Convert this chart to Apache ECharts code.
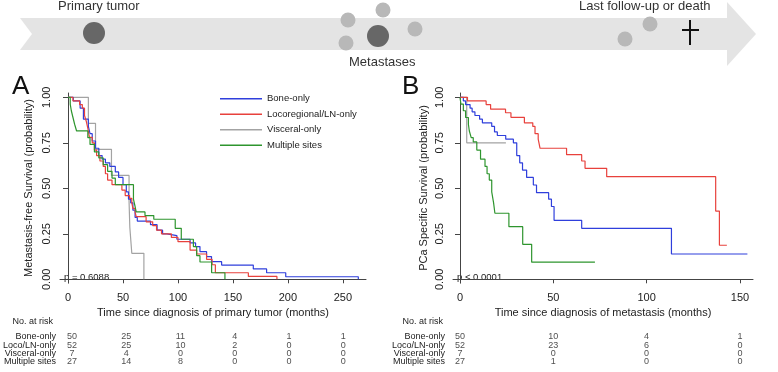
<!DOCTYPE html>
<html>
<head>
<meta charset="utf-8">
<script src="https://cdn.jsdelivr.net/npm/echarts@6/dist/echarts.min.js"></script>
<style>
  html, body { margin: 0; padding: 0; background: #fff; }
  #chart { width: 778px; height: 372px; }
</style>
</head>
<body>
<div id="chart"></div>
<script>
// groups shown in the legend
const groups = ['Bone-only', 'Locoregional/LN-only', 'Visceral-only', 'Multiple sites'];
const riskRows = ['Bone-only', 'Loco/LN-only', 'Visceral-only', 'Multiple sites'];
const colors = ['#2f3fdc', '#e8413c', '#a3a3a3', '#2e952e'];

// panel A: metastasis-free survival, [months, probability]
const boneA = [[0,1],[4.8,0.98],[11,0.94],[14,0.88],[18.5,0.84],[20,0.80],[22,0.76],[25,0.72],[28,0.68],[31,0.66],[34,0.64],[38,0.62],[43,0.59],[46,0.56],[50,0.52],[53,0.48],[55,0.44],[57,0.42],[59,0.38],[61,0.34],[63,0.32],[75,0.30],[81,0.27],[86,0.25],[90,0.24],[99,0.22],[111,0.20],[116,0.18],[120,0.152],[126,0.125],[130.5,0.097],[139.7,0.078],[168.5,0.057],[180.6,0.036],[198,0.014],[264,0]];
const locoA = [[0,1],[4.5,0.98],[10.5,0.96],[13,0.94],[15,0.90],[16.5,0.87],[18,0.83],[19.5,0.78],[22,0.75],[24,0.71],[26,0.68],[29,0.65],[32,0.62],[34,0.58],[36,0.545],[40,0.52],[49,0.49],[52,0.46],[56,0.445],[58,0.42],[59,0.39],[61,0.37],[62,0.344],[71,0.316],[77,0.295],[80.5,0.27],[85,0.25],[94,0.23],[100,0.207],[111,0.16],[117,0.139],[126,0.11],[131,0.08],[134,0.036],[164,0.016],[190,0]];
const viscA = [[0,1],[18.5,0.857],[25,0.714],[39.5,0.571],[55.5,0.429],[56.2,0.286],[58,0.143],[69,0]];
const multiA = [[0,1],[2,0.963],[3,0.926],[4.5,0.889],[6,0.852],[7.8,0.815],[18,0.778],[20,0.741],[24,0.70],[28,0.667],[32,0.63],[36,0.593],[40,0.556],[43,0.52],[59.5,0.44],[61,0.40],[62,0.37],[70,0.35],[78,0.33],[97.5,0.28],[103,0.22],[114,0.18],[117,0.13],[120,0.095],[130.6,0.036],[142.7,0]];

// panel B: PCa specific survival, [months, probability]
const boneB = [[0,1],[1.8,0.98],[3,0.96],[5.4,0.94],[6.5,0.92],[8,0.90],[10.5,0.88],[12,0.86],[17,0.84],[18.5,0.81],[20,0.79],[24.5,0.77],[28.6,0.75],[30.4,0.68],[32,0.64],[33.5,0.60],[35.7,0.56],[39.3,0.518],[41,0.476],[47.5,0.44],[49,0.40],[50.4,0.324],[65.2,0.28],[113.3,0.139],[154,0.139]];
const locoB = [[0,1],[4,0.98],[14,0.96],[16.4,0.935],[24.4,0.915],[27.3,0.89],[34.5,0.86],[39,0.84],[40.2,0.80],[41.9,0.77],[42.9,0.72],[57.1,0.685],[65.2,0.65],[67,0.61],[78.6,0.564],[137,0.375],[139,0.187],[143,0.187]];
const viscB = [[0,1],[3.6,0.75],[24.6,0.75]];
const multiB = [[0,1],[0.5,0.963],[1.8,0.926],[3,0.889],[4.5,0.852],[5,0.815],[6,0.778],[7.1,0.755],[9,0.71],[11,0.66],[13.4,0.62],[14.5,0.58],[15.7,0.545],[17,0.48],[18,0.42],[18.7,0.363],[26.2,0.289],[33.6,0.192],[38.4,0.094],[72.3,0.094]];

// axis ticks
const xTicksA = [0, 50, 100, 150, 200, 250];
const xTicksB = [0, 50, 100, 150];
const yTicks = [0, 0.25, 0.5, 0.75, 1];

// numbers at risk
const riskA = [[50,25,11,4,1,1],[52,25,10,2,0,0],[7,4,0,0,0,0],[27,14,8,0,0,0]];
const riskB = [[50,10,4,1],[52,23,6,0],[7,0,0,0],[27,1,0,0]];

const font = 'Liberation Sans, Arial, Helvetica, sans-serif';
const chart = echarts.init(document.getElementById('chart'), null, { renderer: 'canvas' });

function yAxisOf(grid, name, gap) {
  return {
    type: 'value', gridIndex: grid, min: -0.0203, max: 1.0236, name: name,
    nameLocation: 'middle', nameGap: gap,
    nameTextStyle: { fontFamily: font, fontSize: 11, color: '#222' },
    axisLine: { show: true, lineStyle: { color: '#444', width: 1 } },
    axisTick: { show: true, length: 5, customValues: yTicks, lineStyle: { color: '#444' } },
    axisLabel: { rotate: 90, margin: 8, customValues: yTicks, fontFamily: font, fontSize: 11, color: '#222',
      formatter: v => v.toFixed(2) },
    splitLine: { show: false }
  };
}
function xAxisOf(grid, min, max, ticks, name) {
  return {
    type: 'value', gridIndex: grid, min: min, max: max, offset: 6, name: name,
    nameLocation: 'middle', nameGap: 14,
    nameTextStyle: { fontFamily: font, fontSize: 11, color: '#222' },
    axisLine: { show: true, lineStyle: { color: '#444', width: 1 } },
    axisTick: { show: true, length: 4, customValues: ticks, lineStyle: { color: '#444' } },
    axisLabel: { margin: 3, customValues: ticks, fontFamily: font, fontSize: 11, color: '#222' },
    splitLine: { show: false }
  };
}
function tableX(grid, min, max) {
  return { type: 'value', gridIndex: grid, min: min, max: max, show: false };
}
function tableY(grid) {
  return {
    type: 'category', gridIndex: grid, data: riskRows, inverse: true,
    axisLine: { show: false }, axisTick: { show: false },
    axisLabel: { interval: 0, margin: 8, fontFamily: font, fontSize: 9, color: '#222' }
  };
}
function km(name, data, color, xi, yi) {
  return {
    name: name, type: 'line', data: data, step: 'end', xAxisIndex: xi, yAxisIndex: yi,
    showSymbol: false, symbol: 'none', lineStyle: { color: color, width: 1.2 }, itemStyle: { color: color },
    z: name === 'Visceral-only' ? 1 : 2
  };
}
function riskSeries(times, table, xi, yi) {
  const pts = [];
  table.forEach((row, r) => row.forEach((n, c) => pts.push([times[c], r, n])));
  return {
    type: 'scatter', xAxisIndex: xi, yAxisIndex: yi, data: pts, symbolSize: 0, silent: true,
    label: { show: true, position: 'inside', formatter: p => String(p.value[2]),
      fontFamily: font, fontSize: 9, color: '#222' }
  };
}

const option = {
  animation: false,
  backgroundColor: '#fff',
  color: colors,
  grid: [
    { left: 60, top: 93, width: 306, height: 190 },
    { left: 453, top: 93, width: 300, height: 190 },
    { left: 60, top: 332.5, width: 306, height: 33.4 },
    { left: 453, top: 332.5, width: 300, height: 33.4 }
  ],
  xAxis: [
    xAxisOf(0, -7.3, 271, xTicksA, 'Time since diagnosis of primary tumor (months)'),
    xAxisOf(1, -3.75, 157, xTicksB, 'Time since diagnosis of metastasis (months)'),
    tableX(2, -7.3, 271),
    tableX(3, -3.75, 157)
  ],
  yAxis: [
    yAxisOf(0, 'Metastasis-free Survival (probability)', 26),
    yAxisOf(1, 'PCa Specific Survival (probability)', 24),
    tableY(2),
    tableY(3)
  ],
  legend: {
    data: groups, orient: 'vertical', left: 215, top: 88, itemWidth: 42, itemHeight: 1.6,
    itemGap: 4, icon: 'rect', selectedMode: false,
    textStyle: { fontFamily: font, fontSize: 9.5, color: '#222', lineHeight: 11.5 }
  },
  series: [
    km(groups[2], viscA, colors[2], 0, 0),
    km(groups[0], boneA, colors[0], 0, 0),
    km(groups[1], locoA, colors[1], 0, 0),
    km(groups[3], multiA, colors[3], 0, 0),
    km(groups[2], viscB, colors[2], 1, 1),
    km(groups[0], boneB, colors[0], 1, 1),
    km(groups[1], locoB, colors[1], 1, 1),
    km(groups[3], multiB, colors[3], 1, 1),
    riskSeries(xTicksA, riskA, 2, 2),
    riskSeries(xTicksB, riskB, 3, 3)
  ],
  graphic: [
    // timeline arrow
    { type: 'polygon', shape: { points: [[20,18],[727,18],[727,2],[756,34],[727,66],[727,50],[20,50],[32,34]] },
      style: { fill: '#e4e4e4' }, z: 0 },
    { type: 'circle', shape: { cx: 94, cy: 33, r: 11 }, style: { fill: '#676767' } },
    { type: 'circle', shape: { cx: 348, cy: 20, r: 7.5 }, style: { fill: '#b8b8b8' } },
    { type: 'circle', shape: { cx: 383, cy: 10, r: 7.5 }, style: { fill: '#b8b8b8' } },
    { type: 'circle', shape: { cx: 415, cy: 29, r: 7.5 }, style: { fill: '#b8b8b8' } },
    { type: 'circle', shape: { cx: 346, cy: 43, r: 7.5 }, style: { fill: '#b8b8b8' } },
    { type: 'circle', shape: { cx: 378, cy: 36, r: 11 }, style: { fill: '#676767' } },
    { type: 'circle', shape: { cx: 625, cy: 39, r: 7.5 }, style: { fill: '#b8b8b8' } },
    { type: 'circle', shape: { cx: 650, cy: 24, r: 7.5 }, style: { fill: '#b8b8b8' } },
    { type: 'line', shape: { x1: 690, y1: 20, x2: 690, y2: 45 }, style: { stroke: '#111', lineWidth: 2 } },
    { type: 'line', shape: { x1: 682, y1: 30, x2: 699, y2: 30 }, style: { stroke: '#111', lineWidth: 2 } },
    { type: 'text', left: 58, top: 0, style: { text: 'Primary tumor', font: '13px ' + font, fill: '#333' } },
    { type: 'text', left: 349, top: 56, style: { text: 'Metastases', font: '13px ' + font, fill: '#333' } },
    { type: 'text', left: 579, top: 0, style: { text: 'Last follow-up or death', font: '13px ' + font, fill: '#333' } },
    // panel letters
    { type: 'text', left: 12, top: 74, style: { text: 'A', font: '26px ' + font, fill: '#111' } },
    { type: 'text', left: 402, top: 74, style: { text: 'B', font: '26px ' + font, fill: '#111' } },
    // p-values
    { type: 'text', left: 64, top: 272, style: { text: 'p = 0.6088', font: '9.5px ' + font, fill: '#222' } },
    { type: 'text', left: 457, top: 272, style: { text: 'p < 0.0001', font: '9.5px ' + font, fill: '#222' } },
    // risk table headers
    { type: 'text', right: 778 - 53, top: 317, style: { text: 'No. at risk', font: '9px ' + font, fill: '#222' } },
    { type: 'text', right: 778 - 443, top: 317, style: { text: 'No. at risk', font: '9px ' + font, fill: '#222' } }
  ]
};
chart.setOption(option);
</script>
</body>
</html>
